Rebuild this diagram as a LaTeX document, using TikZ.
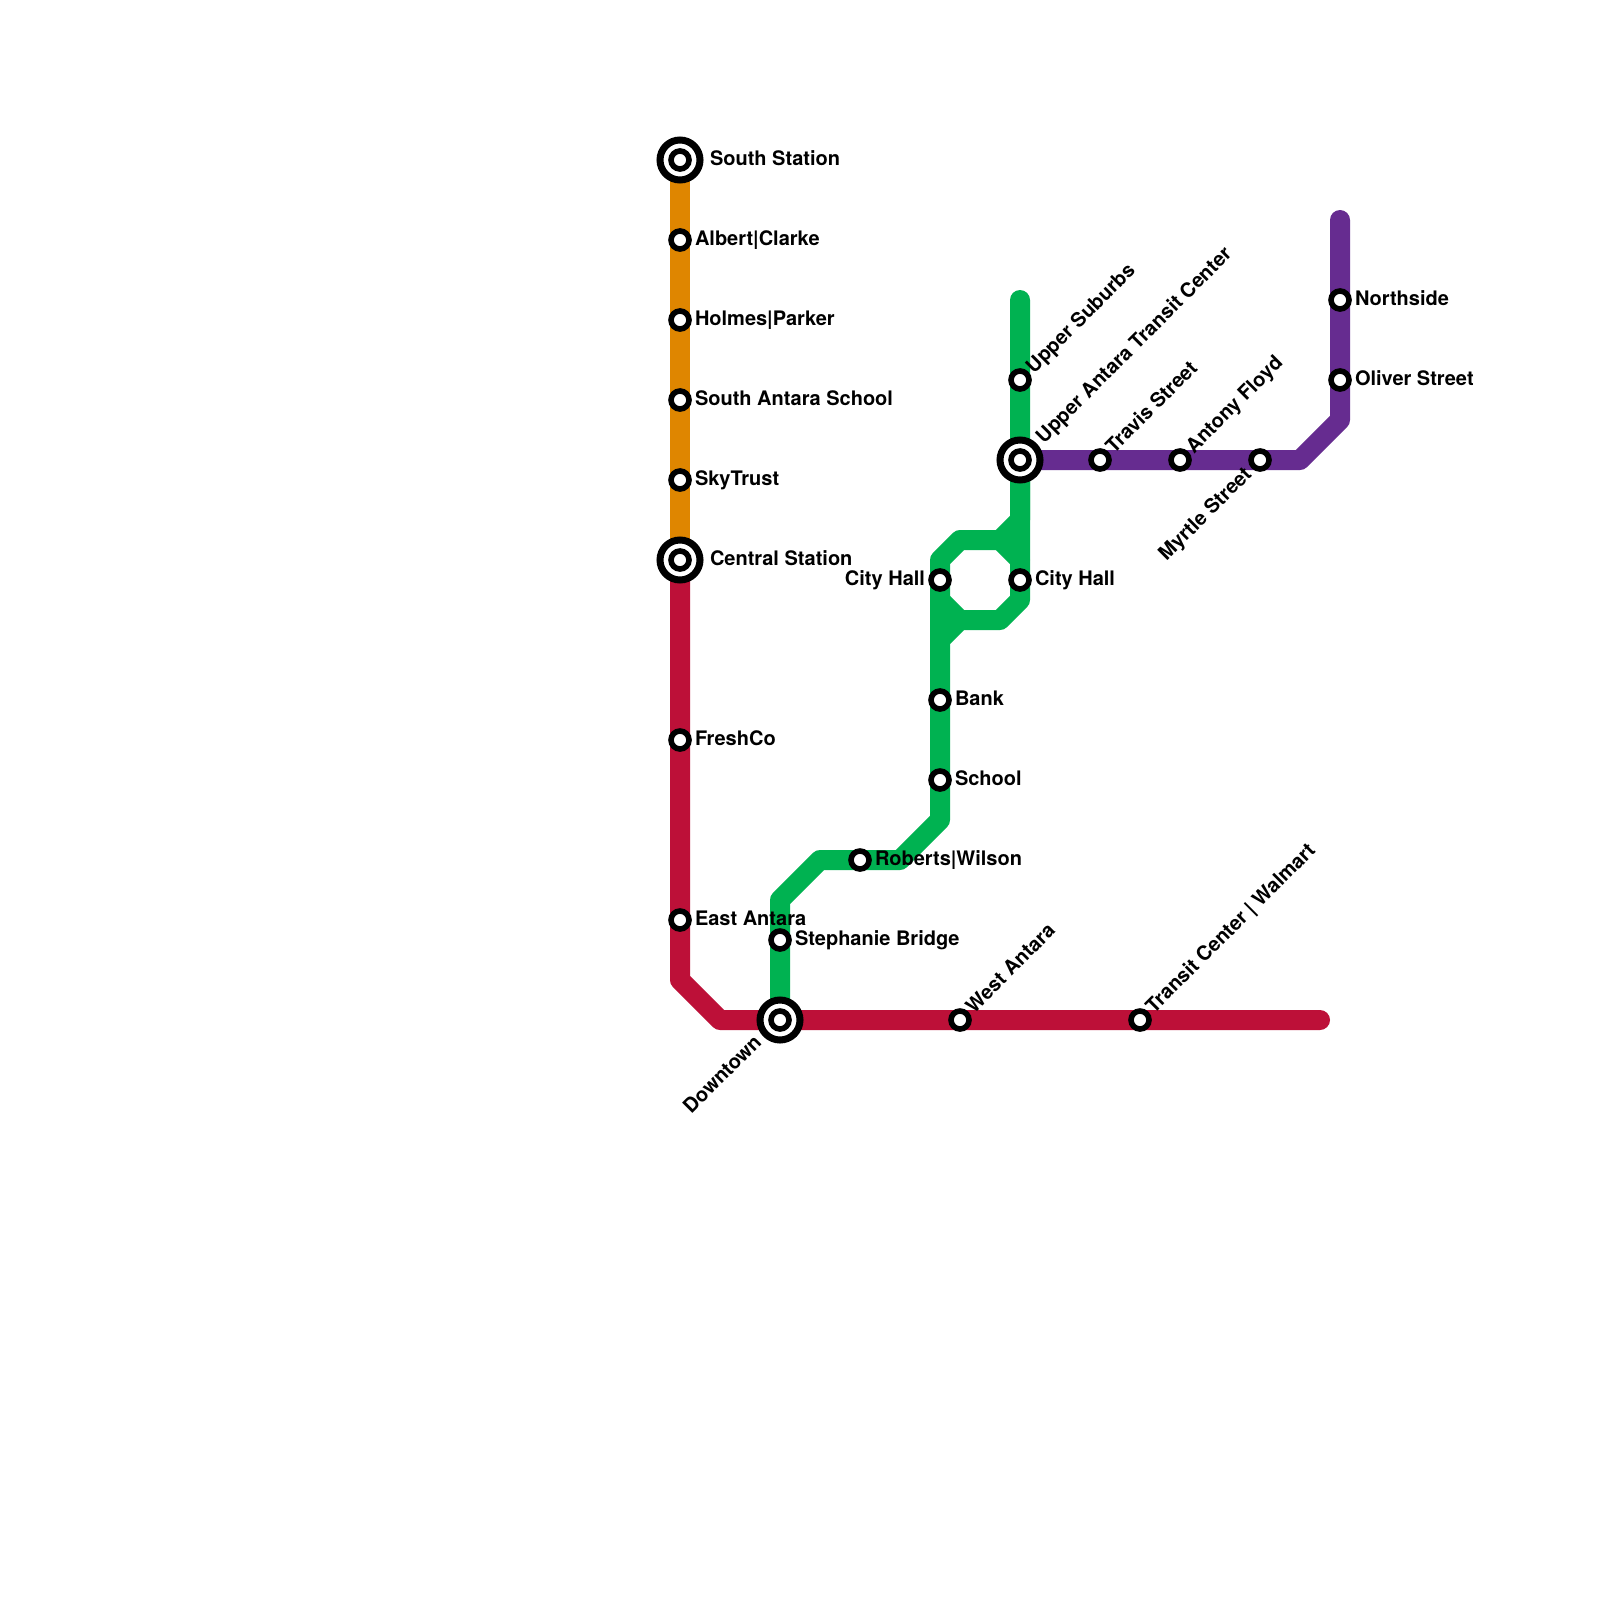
\documentclass[tikz,border=0pt]{standalone}
\usepackage{fontspec}
\setmainfont{TeX Gyre Heros}
\definecolor{lorange}{HTML}{DF8600}
\definecolor{lred}{HTML}{BD1038}
\definecolor{lgreen}{HTML}{00B251}
\definecolor{lpurple}{HTML}{662C90}
\tikzset{
  x=1pt,y=-1pt,
  metro/.style={line width=20pt,line cap=round,line join=round},
  stn/.style={circle,draw=black,fill=white,line width=5.6pt,minimum size=18pt,inner sep=0pt,outer sep=0pt},
  hub/.style={circle,draw=black,fill=white,line width=7pt,minimum size=40pt,inner sep=0pt,outer sep=0pt},
  lab/.style={inner sep=0pt,outer sep=0pt,font=\fontsize{20}{24}\selectfont\bfseries,anchor=base west,text=black},
  labl/.style={lab,anchor=base east},
  dg/.style={lab,rotate=45},
  dgl/.style={labl,rotate=45},
}
\begin{document}
\begin{tikzpicture}
\useasboundingbox (0,0) rectangle (1600,1600);
\fill[white] (0,0) rectangle (1600,1600);
% waypoints
\coordinate (sS) at (680,160);
\coordinate (sAC) at (680,240);
\coordinate (sHP) at (680,320);
\coordinate (sSA) at (680,400);
\coordinate (sSky) at (680,480);
\coordinate (sC) at (680,560);
\coordinate (sF) at (680,740);
\coordinate (sE) at (680,920);
\coordinate (r1) at (680,980);
\coordinate (r2) at (720,1020);
\coordinate (sD) at (780,1020);
\coordinate (sW) at (960,1020);
\coordinate (sT) at (1140,1020);
\coordinate (rEnd) at (1320,1020);
\coordinate (sSt) at (780,940);
\coordinate (g1) at (780,900);
\coordinate (g2) at (820,860);
\coordinate (sR) at (860,860);
\coordinate (g3) at (900,860);
\coordinate (g4) at (940,820);
\coordinate (sSch) at (940,780);
\coordinate (sB) at (940,700);
\coordinate (g5) at (940,640);
\coordinate (g6) at (960,620);
\coordinate (g7) at (1000,620);
\coordinate (g8) at (1020,600);
\coordinate (sCR) at (1020,580);
\coordinate (g9) at (1020,560);
\coordinate (g10) at (1000,540);
\coordinate (g11) at (960,540);
\coordinate (g12) at (940,560);
\coordinate (sCL) at (940,580);
\coordinate (g13) at (940,600);
\coordinate (g14) at (1020,520);
\coordinate (sUA) at (1020,460);
\coordinate (sUS) at (1020,380);
\coordinate (gEnd) at (1020,300);
\coordinate (sTr) at (1100,460);
\coordinate (sAF) at (1180,460);
\coordinate (sM) at (1260,460);
\coordinate (p1) at (1300,460);
\coordinate (p2) at (1340,420);
\coordinate (sO) at (1340,380);
\coordinate (sN) at (1340,300);
\coordinate (pEnd) at (1340,220);
% lines
\draw[metro,lorange] (sS) -- (sC);
\draw[metro,lred] (sC) -- (r1) -- (r2) -- (rEnd);
\draw[metro,lgreen] (sD) -- (g1) -- (g2) -- (g3) -- (g4) -- (g5) -- (g6) -- (g7) -- (g8) -- (sUA) -- (gEnd);
\draw[metro,lgreen] (sUA) -- (g14) -- (g10) -- (g11) -- (g12) -- (g5);
\draw[metro,lgreen] (g13) -- (g6);
\draw[metro,lgreen] (g10) -- (g9);
\draw[metro,lpurple] (sUA) -- (p1) -- (p2) -- (pEnd);
% stations
\node[hub] (nS) at (sS) {}; \node[stn] at (sS) {};
\node[stn] (nAC) at (sAC) {};
\node[stn] (nHP) at (sHP) {};
\node[stn] (nSA) at (sSA) {};
\node[stn] (nSky) at (sSky) {};
\node[hub] (nC) at (sC) {}; \node[stn] at (sC) {};
\node[stn] (nF) at (sF) {};
\node[stn] (nE) at (sE) {};
\node[hub] (nD) at (sD) {}; \node[stn] at (sD) {};
\node[stn] (nW) at (sW) {};
\node[stn] (nT) at (sT) {};
\node[stn] (nSt) at (sSt) {};
\node[stn] (nR) at (sR) {};
\node[stn] (nSch) at (sSch) {};
\node[stn] (nB) at (sB) {};
\node[stn] (nCL) at (sCL) {};
\node[stn] (nCR) at (sCR) {};
\node[hub] (nUA) at (sUA) {}; \node[stn] at (sUA) {};
\node[stn] (nUS) at (sUS) {};
\node[stn] (nTr) at (sTr) {};
\node[stn] (nAF) at (sAF) {};
\node[stn] (nM) at (sM) {};
\node[stn] (nO) at (sO) {};
\node[stn] (nN) at (sN) {};
% labels
\node[lab] (tS) at (710,165) {South Station};
\node[lab] (tAC) at (695,245) {Albert|Clarke};
\node[lab] (tHP) at (695,325) {Holmes|Parker};
\node[lab] (tSA) at (695,405) {South Antara School};
\node[lab] (tSky) at (695,485) {SkyTrust};
\node[lab] (tC) at (710,565) {Central Station};
\node[lab] (tF) at (695,745) {FreshCo};
\node[lab] (tE) at (695,925) {East Antara};
\node[lab] (tSt) at (795,945) {Stephanie Bridge};
\node[lab] (tR) at (875,865) {Roberts|Wilson};
\node[lab] (tSch) at (955,785) {School};
\node[lab] (tB) at (955,705) {Bank};
\node[labl] (tCL) at (925,585) {City Hall};
\node[lab] (tCR) at (1035,585) {City Hall};
\node[lab] (tN) at (1355,305) {Northside};
\node[lab] (tO) at (1355,385) {Oliver Street};
\node[dg] (tUS) at (1034,374) {Upper Suburbs};
\node[dg] (tUA) at (1044,444) {Upper Antara Transit Center};
\node[dg] (tTr) at (1114,454) {Travis Street};
\node[dg] (tAF) at (1194,454) {Antony Floyd};
\node[dg] (tW) at (974,1014) {West Antara};
\node[dg] (tT) at (1154,1014) {Transit Center | Walmart};
\node[dgl] (tD) at (762.5,1043.5) {Downtown};
\node[dgl] (tM) at (1252.5,475.5) {Myrtle Street};
\end{tikzpicture}
\end{document}
